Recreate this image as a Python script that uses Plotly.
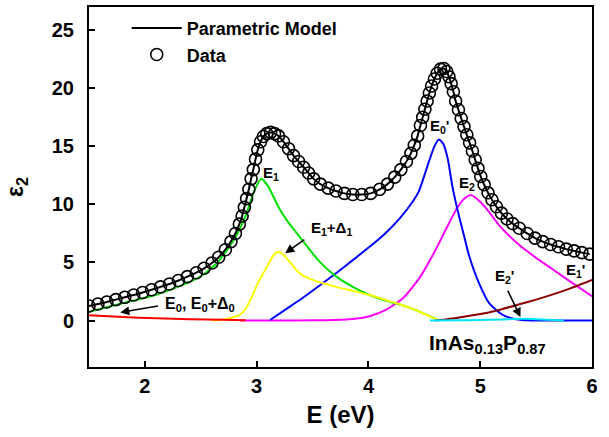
import plotly.graph_objects as go

# ---------------- data ----------------
data_E = [1.50, 1.58, 1.66, 1.74, 1.82, 1.90, 1.98, 2.06, 2.14, 2.22, 2.30, 2.38, 2.46,
          2.53, 2.60, 2.66, 2.72, 2.77, 2.81, 2.845, 2.87, 2.89, 2.91, 2.93, 2.95, 2.97,
          2.99, 3.01, 3.035, 3.06, 3.09, 3.125, 3.16, 3.195, 3.24, 3.285, 3.33, 3.375,
          3.42, 3.465, 3.51, 3.57, 3.64, 3.71, 3.785, 3.86, 3.94, 4.02, 4.10, 4.17,
          4.235, 4.29, 4.34, 4.38, 4.41, 4.44, 4.465, 4.485, 4.505, 4.525, 4.545, 4.565,
          4.59, 4.615, 4.645, 4.675, 4.70, 4.72, 4.74, 4.76, 4.78, 4.805, 4.83, 4.855,
          4.88, 4.905, 4.93, 4.955, 4.98, 5.005, 5.035, 5.07, 5.105, 5.145, 5.19, 5.24,
          5.29, 5.35, 5.42, 5.49, 5.56, 5.63, 5.70, 5.77, 5.84, 5.91, 5.98]
data_eps2 = [1.25, 1.42, 1.60, 1.80, 2.00, 2.20, 2.42, 2.65, 2.90, 3.15, 3.45, 3.78, 4.12,
             4.50, 4.95, 5.45, 6.10, 6.80, 7.50, 8.30, 9.00, 9.75, 10.5, 11.3, 12.2, 13.0,
             13.9, 14.7, 15.4, 15.85, 16.1, 16.2, 16.1, 15.9, 15.4, 14.8, 14.2, 13.7,
             13.2, 12.7, 12.2, 11.75, 11.4, 11.15, 10.95, 10.85, 10.85, 10.95, 11.3, 11.75,
             12.35, 13.0, 13.7, 14.4, 15.1, 15.9, 16.8, 17.5, 18.2, 18.9, 19.6, 20.2,
             20.8, 21.3, 21.65, 21.7, 21.45, 21.0, 20.4, 19.7, 18.9, 18.15, 17.4, 16.7,
             16.0, 15.3, 14.6, 13.85, 13.1, 12.4, 11.7, 11.0, 10.4, 9.8, 9.25, 8.75,
             8.35, 7.95, 7.5, 7.1, 6.8, 6.55, 6.35, 6.15, 6.0, 5.85, 5.72]

model_E = data_E
model_eps2 = data_eps2

E1_E = [1.50, 1.70, 1.90, 2.10, 2.30, 2.50, 2.65, 2.80, 2.90, 2.98, 3.04, 3.10, 3.20, 3.28,
        3.41, 3.56, 3.71, 3.86, 4.01, 4.16, 4.31, 4.45, 4.55, 4.62]
E1_eps2 = [0.75, 1.25, 1.72, 2.22, 2.92, 3.80, 5.00, 7.00, 9.00, 11.2, 12.2, 11.6, 9.7, 8.5,
           6.9, 5.1, 3.8, 2.9, 2.2, 1.7, 1.3, 0.8, 0.37, 0.08]

E1D1_E = [2.60, 2.70, 2.80, 2.85, 2.90, 2.96, 3.02, 3.09, 3.15, 3.19, 3.23, 3.295, 3.38,
          3.50, 3.71, 3.86, 4.01, 4.16, 4.31, 4.45, 4.545, 4.62]
E1D1_eps2 = [0.0, 0.1, 0.3, 0.5, 1.0, 2.1, 3.4, 4.6, 5.6, 5.9, 5.75, 5.07, 4.1,
             3.5, 2.9, 2.55, 2.2, 1.75, 1.3, 0.8, 0.37, 0.08]

E0p_E = [3.12, 3.25, 3.41, 3.56, 3.71, 3.86, 4.01, 4.15, 4.28, 4.40, 4.45, 4.485, 4.545,
         4.59, 4.63, 4.67, 4.71, 4.75, 4.80, 4.85, 4.90, 4.99, 5.08, 5.20, 5.30, 5.40,
         5.60, 6.00]
E0p_eps2 = [0.05, 0.9, 1.94, 3.0, 4.07, 5.2, 6.35, 7.5, 8.8, 10.3, 11.1, 12.05, 13.8,
            15.0, 15.6, 15.2, 13.9, 11.6, 9.4, 7.5, 5.6, 3.2, 1.5, 0.5, 0.15, 0.03,
            0.0, 0.0]

E2_E = [2.85, 3.20, 3.50, 3.80, 3.95, 4.01, 4.16, 4.31, 4.455, 4.60, 4.69, 4.80,
        4.87, 4.92, 4.98, 5.05, 5.17, 5.35, 5.50, 5.65, 5.80, 6.00]
E2_eps2 = [0.0, 0.0, 0.02, 0.1, 0.25, 0.37, 0.94, 1.94, 3.65, 6.07, 7.8, 9.8,
           10.6, 10.8, 10.4, 9.7, 8.2, 6.5, 5.4, 4.4, 3.4, 2.1]

E1p_E = [4.60, 4.80, 5.05, 5.20, 5.35, 5.50, 5.65, 5.80, 6.00]
E1p_eps2 = [0.0, 0.25, 0.65, 1.0, 1.4, 1.8, 2.25, 2.75, 3.5]

E2p_E = [4.55, 4.80, 5.00, 5.20, 5.40, 5.55, 5.75]
E2p_eps2 = [0.0, 0.02, 0.05, 0.10, 0.15, 0.10, 0.0]

E0_E = [1.50, 1.80, 2.10, 2.40, 2.70, 2.90]
E0_eps2 = [0.45, 0.30, 0.20, 0.12, 0.06, 0.03]

x_ticks = [2, 3, 4, 5, 6]
y_ticks = [0, 5, 10, 15, 20, 25]

# ---------------- figure ----------------
FONT = "Liberation Sans, Arial, sans-serif"
fig = go.Figure()

components = [
    (E2_E, E2_eps2, "#ff00ff"),
    (E0p_E, E0p_eps2, "#0000ff"),
    (E1_E, E1_eps2, "#00e000"),
    (E1D1_E, E1D1_eps2, "#ffff00"),
    (E1p_E, E1p_eps2, "#8b0000"),
    (E2p_E, E2p_eps2, "#00e5ff"),
    (E0_E, E0_eps2, "#ff0000"),
]
for xs, ys, col in components:
    fig.add_trace(go.Scatter(x=xs, y=ys, mode="lines", showlegend=False,
                             line=dict(color=col, width=2, shape="spline", smoothing=0.6),
                             hoverinfo="skip"))

fig.add_trace(go.Scatter(x=data_E, y=data_eps2, mode="markers", name="Data",
                         legendgroup="b", legendrank=2,
                         marker=dict(symbol="circle-open", size=12, color="black",
                                     line=dict(width=1.6, color="black"))))
fig.add_trace(go.Scatter(x=model_E, y=model_eps2, mode="lines", name="Parametric Model",
                         legendgroup="a", legendrank=1,
                         line=dict(color="black", width=2, shape="spline", smoothing=0.8)))

ann = []
def label(x, y, text, size=15, **kw):
    ann.append(dict(x=x, y=y, xref="x", yref="y", text=text, showarrow=False,
                    font=dict(family=FONT, size=size, color="black", weight="bold"), **kw))

def arrow(x0, y0, x1, y1):
    ann.append(dict(x=x1, y=y1, ax=x0, ay=y0, xref="x", yref="y", axref="x", ayref="y",
                    text="", showarrow=True, arrowhead=2, arrowsize=1.2, arrowwidth=1.5,
                    arrowcolor="black"))

label(3.13, 12.7, "E<sub>1</sub>")
label(3.67, 7.9, "E<sub>1</sub>+Δ<sub>1</sub>")
arrow(3.44, 7.05, 3.255, 5.8)
label(4.64, 16.75, "E<sub>0</sub>'")
label(4.88, 11.8, "E<sub>2</sub>")
label(5.22, 3.76, "E<sub>2</sub>'")
arrow(5.24, 2.7, 5.36, 0.3)
label(5.85, 4.27, "E<sub>1</sub>'")
label(2.49, 1.37, "E<sub>0</sub>, E<sub>0</sub>+Δ<sub>0</sub>", size=16)
arrow(2.13, 1.28, 1.78, 0.7)
label(4.52, -2.05, "InAs<sub>0.13</sub>P<sub>0.87</sub>", size=21, xanchor="left")

fig.update_layout(
    width=609, height=437,
    margin=dict(l=89, r=17, t=5, b=70),
    paper_bgcolor="white", plot_bgcolor="white",
    font=dict(family=FONT, color="black"),
    annotations=ann,
    showlegend=True,
    legend=dict(x=0.075, y=0.992, xanchor="left", yanchor="top", itemwidth=50,
                bgcolor="rgba(0,0,0,0)", traceorder="grouped", tracegroupgap=0,
                font=dict(family=FONT, size=18, color="black", weight="bold")),
)
fig.update_xaxes(range=[1.5, 6], tickvals=x_ticks, ticks="inside", ticklen=6, tickwidth=1.5,
                 tickcolor="black", showline=True, linecolor="black", linewidth=2,
                 mirror=True, showgrid=False, zeroline=False,
                 tickfont=dict(family=FONT, size=20, color="black", weight="bold"),
                 title=dict(text="E (eV)", standoff=10,
                            font=dict(family=FONT, size=24, color="black", weight="bold")))
fig.update_yaxes(range=[-4, 27], tickvals=y_ticks, ticks="inside", ticklen=6, tickwidth=1.5,
                 tickcolor="black", showline=True, linecolor="black", linewidth=2,
                 mirror=True, showgrid=False, zeroline=False, ticklabelstandoff=9,
                 tickfont=dict(family=FONT, size=20, color="black", weight="bold"),
                 title=dict(text="ε<sub>2</sub>", standoff=22,
                            font=dict(family=FONT, size=23, color="black", weight="bold")))

fig.write_html("out.html", config={"displayModeBar": False},
               post_script="document.body.style.margin='0';document.body.style.overflow='hidden';")
